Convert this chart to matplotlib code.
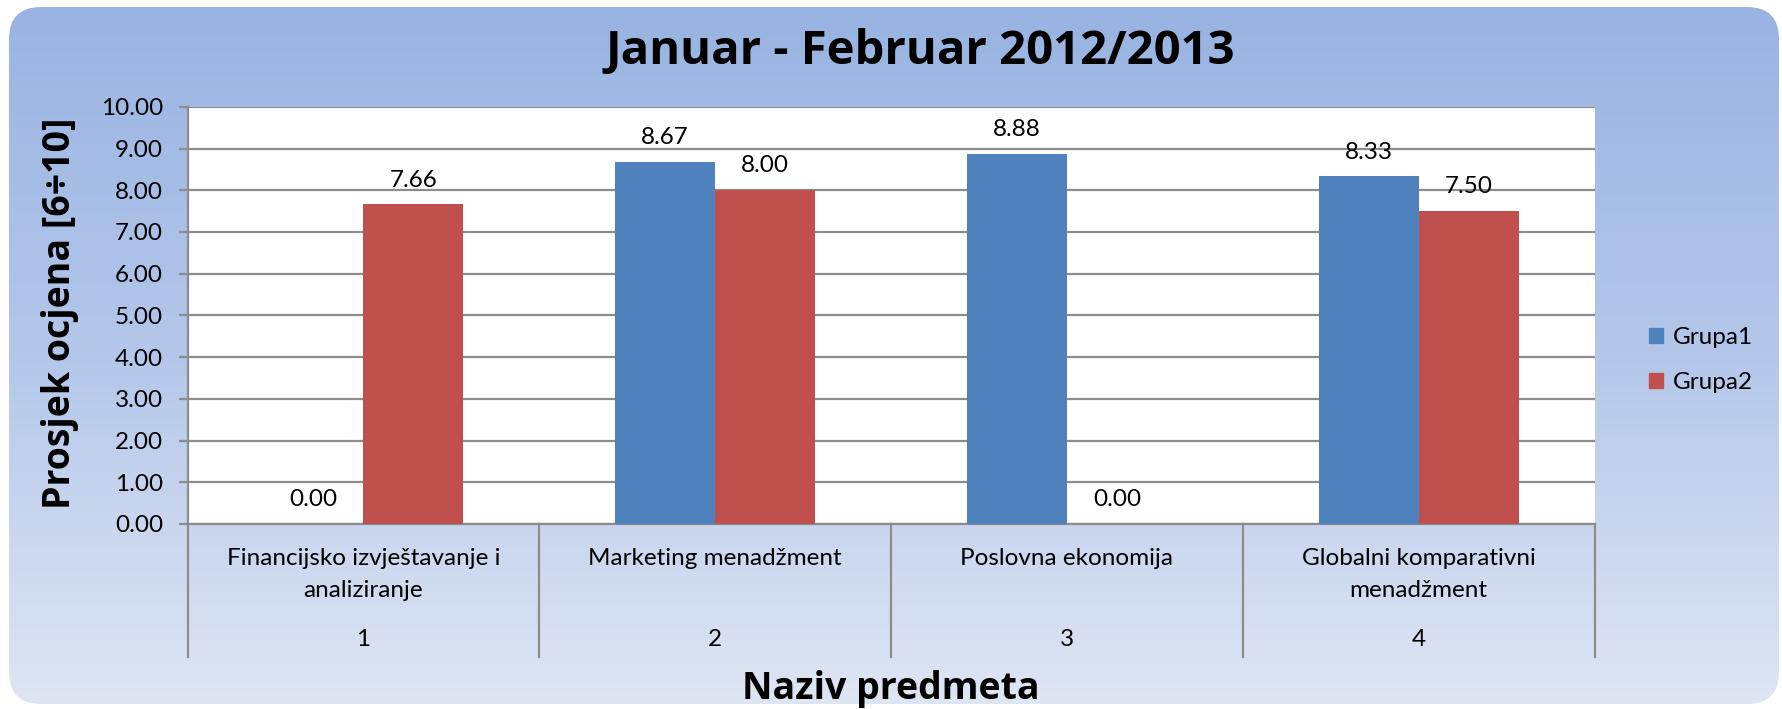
import numpy as np
import matplotlib
matplotlib.use('Agg')
from matplotlib import pyplot as plt
from matplotlib.patches import FancyBboxPatch, Patch
from matplotlib.colors import LinearSegmentedColormap

# data
subjects = ['Financijsko izvještavanje i\nanaliziranje', 'Marketing menadžment',
            'Poslovna ekonomija', 'Globalni komparativni\nmenadžment']
subject_nums = ['1', '2', '3', '4']
grupa1 = [0.00, 8.67, 8.88, 8.33]
grupa2 = [7.66, 8.00, 0.00, 7.50]
series_names = ['Grupa1', 'Grupa2']
yticks = [0, 1, 2, 3, 4, 5, 6, 7, 8, 9, 10]

BLUE = '#4F81BD'
RED = '#C0504D'
GRID = '#8C8C8C'
W, H = 1782, 709
FS = 17.5

plt.rcParams['font.family'] = ['Lato', 'DejaVu Sans']

fig = plt.figure(figsize=(W / 100, H / 100), dpi=100)
fig.patch.set_facecolor('white')

# background: rounded panel with a vertical gradient
bg = fig.add_axes([0, 0, 1, 1])
bg.set_xlim(0, W)
bg.set_ylim(H, 0)
bg.axis('off')
cmap = LinearSegmentedColormap.from_list('bg', ['#98B3E2', '#B4C7EA', '#DFE6F3'])
grad = np.linspace(0, 1, 256).reshape(-1, 1)
img = bg.imshow(grad, cmap=cmap, aspect='auto', extent=[0, W, H, 0], zorder=0)
panel = FancyBboxPatch((9, 7), W - 12, H - 12, boxstyle='round,pad=0,rounding_size=32',
                       facecolor='none', edgecolor='none', transform=bg.transData)
bg.add_patch(panel)
img.set_clip_path(panel)

# main plot area
left, right, top, bottom = 187.5, 1594.5, 106.8, 524.0
ax = fig.add_axes([left / W, 1 - bottom / H, (right - left) / W, (bottom - top) / H])
ax.set_facecolor('white')

x = np.arange(len(subjects)) + 0.5
bw = 0.284
b1 = ax.bar(x - bw / 2, grupa1, bw, color=BLUE, zorder=3, label=series_names[0])
b2 = ax.bar(x + bw / 2, grupa2, bw, color=RED, zorder=3, label=series_names[1])
for bars, vals in ((b1, grupa1), (b2, grupa2)):
  for b, v in zip(bars, vals):
    ax.annotate('{:.2f}'.format(v), (b.get_x() + b.get_width() / 2, v),
                xytext=(0, 10), textcoords='offset points',
                ha='center', va='bottom', fontsize=FS)

ax.set_xlim(0, len(subjects))
ax.set_ylim(0, 10)
ax.set_yticks(yticks)
ax.set_yticklabels(['{:.2f}'.format(t) for t in yticks], fontsize=FS)
ax.yaxis.grid(True, color=GRID, linewidth=1.6, zorder=1)
ax.tick_params(axis='y', length=6.5, width=1.6, color=GRID, pad=11)
ax.set_xticks([])
for side in ('top', 'right'):
  ax.spines[side].set_visible(False)
ax.spines['left'].set_color(GRID)
ax.spines['left'].set_linewidth(1.6)
ax.spines['bottom'].set_color(GRID)
ax.spines['bottom'].set_linewidth(1.6)

# category axis below: dividers, names and numbers
trans = ax.get_xaxis_transform()
ph = bottom - top
div_bottom = -(657 - bottom) / ph
for xb in range(len(subjects) + 1):
  ax.plot([xb, xb], [0, div_bottom], color=GRID, linewidth=1.6,
          transform=trans, clip_on=False)
for xc, name, num in zip(x, subjects, subject_nums):
  ax.text(xc, -(548 - bottom) / ph, name, transform=trans, ha='center', va='top',
          fontsize=FS, linespacing=1.62)
  ax.text(xc, -(640 - bottom) / ph, num, transform=trans, ha='center', va='center',
          fontsize=FS)

fig.text(920 / W, 1 - 51 / H, 'Januar - Februar 2012/2013', ha='center', va='center',
         fontsize=34, fontweight='bold', family='Open Sans')
fig.text(891 / W, 1 - 689 / H, 'Naziv predmeta', ha='center', va='center',
         fontsize=27, fontweight='bold', family='Open Sans')
fig.text(60 / W, 1 - 313 / H, 'Prosjek ocjena [6÷10]', ha='center', va='center',
         rotation=90, fontsize=27, fontweight='bold', family='Open Sans')

handles = [Patch(color=BLUE), Patch(color=RED)]
fig.legend(handles, series_names, loc='center left', bbox_to_anchor=(1627 / W, 1 - 360 / H),
           frameon=False, fontsize=FS, handlelength=0.6, handleheight=0.6,
           handletextpad=0.4, labelspacing=1.0)

plt.savefig('out.png', dpi=100)
